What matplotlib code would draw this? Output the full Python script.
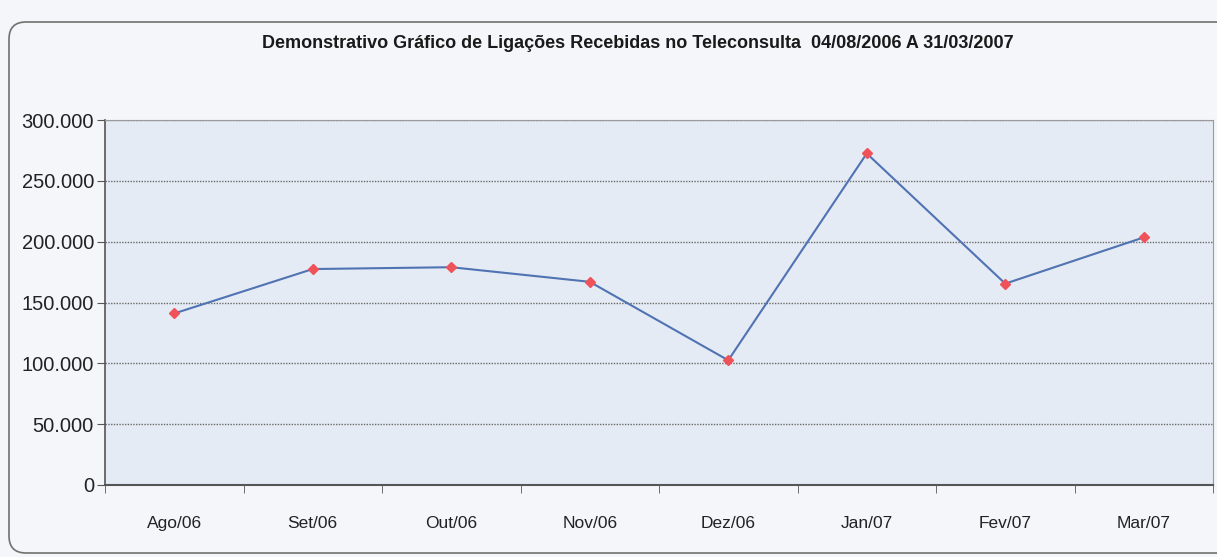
import matplotlib
matplotlib.use("Agg")
import matplotlib.pyplot as plt
from matplotlib.patches import FancyBboxPatch
from matplotlib.ticker import FuncFormatter, MultipleLocator

months = ["Ago/06", "Set/06", "Out/06", "Nov/06", "Dez/06", "Jan/07", "Fev/07", "Mar/07"]
calls = [141000, 177500, 179000, 167000, 102500, 272500, 165500, 203500]
title = "Demonstrativo Gráfico de Ligações Recebidas no Teleconsulta  04/08/2006 A 31/03/2007"

W, H = 1217, 557
fig = plt.figure(figsize=(W / 100, H / 100), dpi=100)
fig.patch.set_facecolor("#f4f6fa")

font = ["Liberation Sans Narrow", "Liberation Sans", "DejaVu Sans"]

# rounded outer border
border = FancyBboxPatch((9 / W, 4 / H), 1.05, (H - 26) / H,
                        boxstyle="round,pad=0,rounding_size=0.014",
                        transform=fig.transFigure, fill=False,
                        edgecolor="#707070", linewidth=1.2,
                        mutation_aspect=W / H)
fig.patches.append(border)

left, right, top, bottom = 105, 1213, 120, 485
ax = fig.add_axes([left / W, 1 - bottom / H, (right - left) / W, (bottom - top) / H])
ax.set_facecolor("#e5ebf4")

x = list(range(len(months)))
ax.plot(x, calls, color="#4f73b3", linewidth=1.5, marker="D", markersize=5.5,
        markerfacecolor="#f0525a", markeredgecolor="#f0525a", zorder=3)

ax.set_xlim(-0.5, len(months) - 0.5)
ax.set_ylim(0, 300000)
ax.yaxis.set_major_locator(MultipleLocator(50000))
ax.yaxis.set_major_formatter(FuncFormatter(lambda v, p: f"{int(v):,}".replace(",", ".")))
ax.grid(axis="y", color="#6a6a6a", linestyle=(0, (1, 1)), linewidth=1.0)
ax.set_axisbelow(True)

ax.set_xticks(x)
ax.set_xticklabels(months, fontfamily=font, fontsize=12.5, color="#222222")
ax.set_xticks([i + 0.5 for i in range(-1, len(months))], minor=True)
ax.tick_params(axis="x", which="major", length=0, pad=22)
ax.tick_params(axis="x", which="minor", length=6, color="#555555", direction="out")
ax.tick_params(axis="y", length=6, color="#555555", labelsize=14.5, labelcolor="#222222", pad=2)
for lbl in ax.get_yticklabels():
    lbl.set_fontfamily(font)

for s in ["top", "right"]:
    ax.spines[s].set_color("#9a9a9a")
    ax.spines[s].set_linewidth(0.8)
ax.spines["left"].set_color("#555555")
ax.spines["bottom"].set_color("#555555")
ax.spines["left"].set_linewidth(1.2)
ax.spines["bottom"].set_linewidth(1.5)

fig.text(0.524, 1 - 43 / H, title, ha="center", va="center",
         fontfamily=font, fontsize=13, fontweight="bold", color="#1a1a1a")

fig.savefig("out.png", dpi=100, facecolor=fig.get_facecolor())
